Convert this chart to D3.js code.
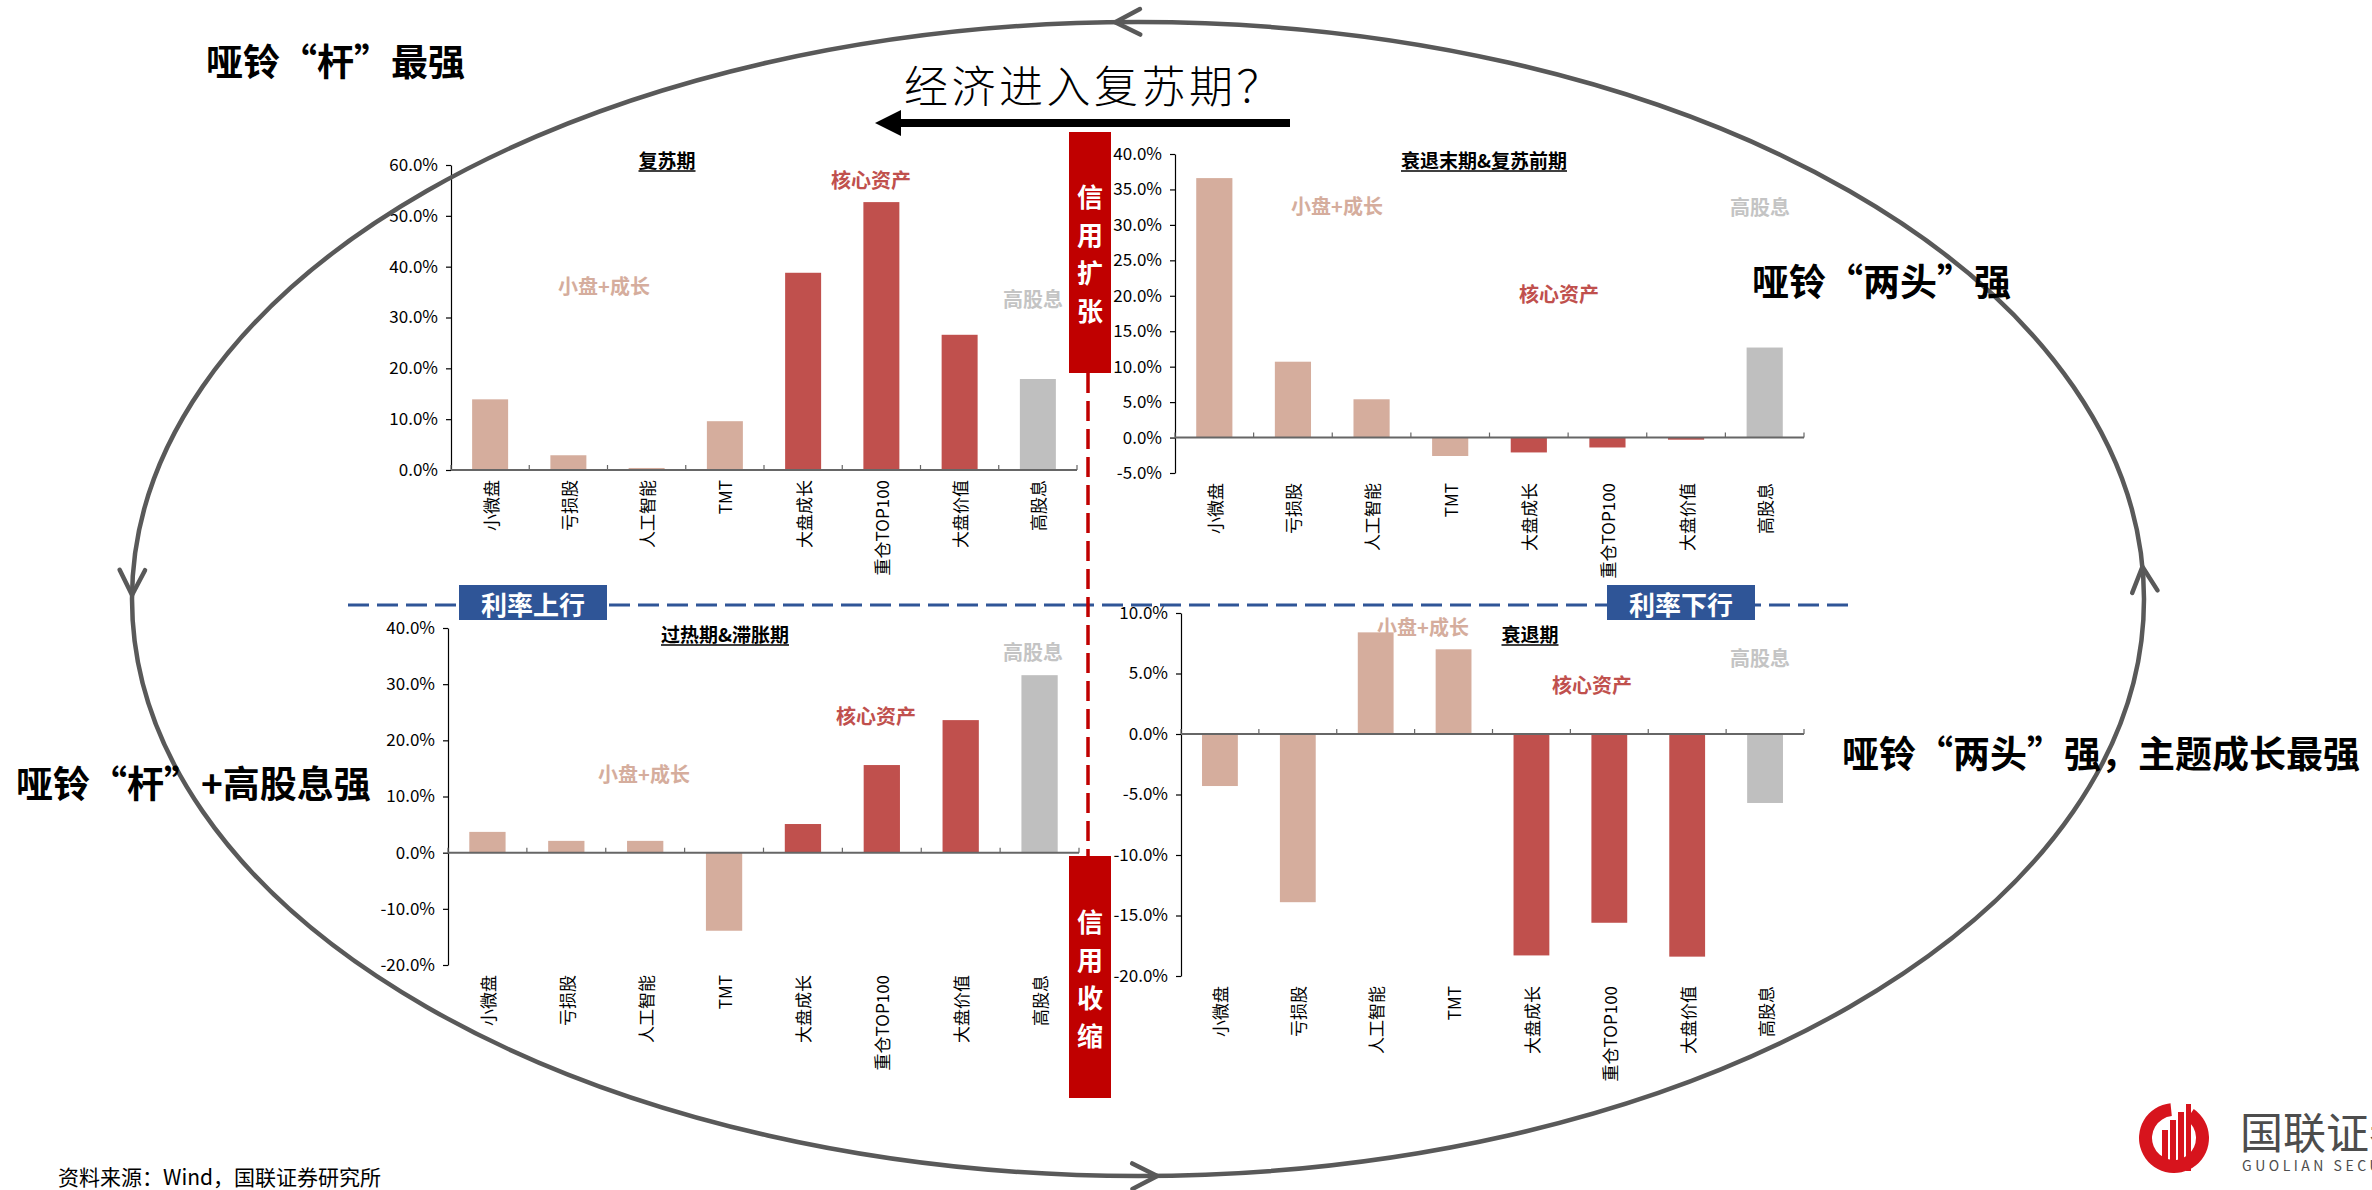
<!DOCTYPE html>
<html><head><meta charset="utf-8">
<script src="https://cdn.jsdelivr.net/npm/d3@7"></script>
<style>
body{margin:0;background:#fff;overflow:hidden;}
svg{display:block;}
text{font-family:"Noto Sans CJK SC","Noto Sans",sans-serif;}
</style></head><body>
<svg id="c" width="2372" height="1190"></svg>
<script>
// ---------- DATA ----------
const categories = ["小微盘","亏损股","人工智能","TMT","大盘成长","重仓TOP100","大盘价值","高股息"];
const categoryGroups = ["small","small","small","small","core","core","core","div"];
const groupNames = {small:"小盘+成长", core:"核心资产", div:"高股息"};
const panelTitles = ["复苏期","衰退末期&复苏前期","过热期&滞胀期","衰退期"];
const recoveryValues      = [13.9, 2.9, 0.4, 9.6, 38.8, 52.7, 26.6, 17.9];
const lateRecessionValues = [36.6, 10.7, 5.4, -2.6, -2.1, -1.4, -0.3, 12.7];
const overheatValues      = [3.7, 2.1, 2.1, -13.9, 5.1, 15.6, 23.6, 31.6];
const recessionValues     = [-4.3, -13.9, 8.4, 7.0, -18.3, -15.6, -18.4, -5.7];
const recoveryTicks      = [0, 10, 20, 30, 40, 50, 60];
const lateRecessionTicks = [-5, 0, 5, 10, 15, 20, 25, 30, 35, 40];
const overheatTicks      = [-20, -10, 0, 10, 20, 30, 40];
const recessionTicks     = [-20, -15, -10, -5, 0, 5, 10];
const mainTitle = "经济进入复苏期？";
const dumbbellLabels = ["哑铃“杆”最强","哑铃“两头”强","哑铃“杆”+高股息强","哑铃“两头”强，主题成长最强"];
const creditLabels = ["信用扩张","信用收缩"];
const rateLabels = ["利率上行","利率下行"];
const sourceText = "资料来源：Wind，国联证券研究所";

// ---------- STYLE ----------
const colors = {small:"#d5ad9d", core:"#c0504d", div:"#bfbfbf"};
const labelColors = {small:"#d5ad9d", core:"#c0504d", div:"#c4c4c4"};
const RED = "#c00000", BLUE = "#2f5597", ARC = "#595959";
const numFont = '"Liberation Sans Narrow","Arial Narrow","Liberation Sans",Arial,sans-serif';

const svg = d3.select("#c");

// ---------- PANELS ----------
const panels = [
  {title:panelTitles[0], values:recoveryValues, ticks:recoveryTicks, x0:451, x1:1077, yTop:165, yBot:470,
   titlePos:[667,159], lab:{small:[604,285], core:[871,179], div:[1033,298]}},
  {title:panelTitles[1], values:lateRecessionValues, ticks:lateRecessionTicks, x0:1175, x1:1804, yTop:154, yBot:473,
   titlePos:[1484,159], lab:{small:[1337,205], core:[1559,293], div:[1760,206]}},
  {title:panelTitles[2], values:overheatValues, ticks:overheatTicks, x0:448, x1:1079, yTop:628, yBot:965,
   titlePos:[725,633], lab:{small:[644,773], core:[876,715], div:[1033,651]}},
  {title:panelTitles[3], values:recessionValues, ticks:recessionTicks, x0:1181, x1:1804, yTop:613, yBot:976,
   titlePos:[1530,633], lab:{small:[1423,626], core:[1592,684], div:[1760,657]}}
];

panels.forEach(p => {
  const g = svg.append("g");
  const x = d3.scaleBand().domain(categories).range([p.x0, p.x1]).paddingInner(0.54).paddingOuter(0.27);
  const y = d3.scaleLinear().domain([d3.min(p.ticks), d3.max(p.ticks)]).range([p.yBot, p.yTop]);

  // group labels
  Object.keys(p.lab).forEach(k => {
    g.append("text").attr("x", p.lab[k][0]).attr("y", p.lab[k][1])
      .attr("text-anchor","middle").attr("dominant-baseline","central")
      .attr("font-size",20).attr("font-weight",700).attr("fill",labelColors[k]).text(groupNames[k]);
  });

  // bars
  g.selectAll("rect.bar").data(p.values).join("rect").attr("class","bar")
    .attr("x",(d,i)=>x(categories[i])).attr("width",x.bandwidth())
    .attr("y",d=>y(Math.max(0,d))).attr("height",d=>Math.abs(y(d)-y(0)))
    .attr("fill",(d,i)=>colors[categoryGroups[i]]);

  // y axis
  const ya = g.append("g").attr("transform",`translate(${p.x0},0)`)
    .call(d3.axisLeft(y).tickValues(p.ticks).tickFormat(d=>d.toFixed(1)+"%").tickSize(5).tickSizeOuter(0).tickPadding(8));
  ya.select(".domain").attr("stroke","#000").attr("stroke-width",1.2);
  ya.selectAll(".tick line").attr("stroke","#000").attr("stroke-width",1.2);
  ya.selectAll(".tick text").attr("font-family",numFont).attr("font-size",17).attr("fill","#000");

  // x axis at zero
  const y0 = y(0);
  g.append("line").attr("x1",p.x0).attr("x2",p.x1).attr("y1",y0).attr("y2",y0)
    .attr("stroke","#666").attr("stroke-width",2);
  const step = x.step();
  g.selectAll("line.xt").data(d3.range(categories.length+1)).join("line").attr("class","xt")
    .attr("x1",i=>p.x0+i*step).attr("x2",i=>p.x0+i*step).attr("y1",y0).attr("y2",y0-5)
    .attr("stroke","#666").attr("stroke-width",1.2);

  // category labels
  g.selectAll("text.cat").data(categories).join("text").attr("class","cat")
    .attr("transform",d=>`translate(${x(d)+x.bandwidth()/2},${p.yBot+10}) rotate(-90)`)
    .attr("text-anchor","end").attr("dominant-baseline","central")
    .attr("font-size",17).attr("fill","#000").text(d=>d);

  // title
  const t = g.append("text").attr("x",p.titlePos[0]).attr("y",p.titlePos[1])
    .attr("text-anchor","middle").attr("dominant-baseline","central")
    .attr("font-size",19).attr("font-weight",700).attr("fill","#000").text(p.title);
  const bb = t.node().getBBox();
  g.append("line").attr("x1",bb.x).attr("x2",bb.x+bb.width).attr("y1",p.titlePos[1]+12).attr("y2",p.titlePos[1]+12)
    .attr("stroke","#000").attr("stroke-width",1.5);
});

// ---------- DIVIDERS ----------
svg.append("line").attr("x1",348).attr("x2",1849).attr("y1",605).attr("y2",605)
  .attr("stroke",BLUE).attr("stroke-width",3).attr("stroke-dasharray","21,8");
svg.append("line").attr("x1",1088).attr("x2",1088).attr("y1",373).attr("y2",856)
  .attr("stroke",RED).attr("stroke-width",3.5).attr("stroke-dasharray","20,8");

// rate boxes
[[459,rateLabels[0]],[1607,rateLabels[1]]].forEach(([bx,lab])=>{
  svg.append("rect").attr("x",bx).attr("y",585).attr("width",148).attr("height",35).attr("fill",BLUE);
  svg.append("text").attr("x",bx+74).attr("y",603).attr("text-anchor","middle").attr("dominant-baseline","central")
    .attr("font-size",26).attr("font-weight",700).attr("fill","#fff").text(lab);
});
// credit boxes
[[132,373,creditLabels[0]],[856,1098,creditLabels[1]]].forEach(([top,bot,lab])=>{
  svg.append("rect").attr("x",1069).attr("y",top).attr("width",42).attr("height",bot-top).attr("fill",RED);
  const chars = Array.from(lab), mid=(top+bot)/2, sp=38;
  chars.forEach((c,i)=>{
    svg.append("text").attr("x",1090).attr("y",mid+(i-(chars.length-1)/2)*sp)
      .attr("text-anchor","middle").attr("dominant-baseline","central")
      .attr("font-size",26).attr("font-weight",700).attr("fill","#fff").text(c);
  });
});

// ---------- CYCLE ELLIPSE ----------
const E = {cx:1138, cy:599, rx:1006, ry:577};
svg.append("ellipse").attr("cx",E.cx).attr("cy",E.cy).attr("rx",E.rx).attr("ry",E.ry)
  .attr("fill","none").attr("stroke",ARC).attr("stroke-width",4.5);
[268.7, 180.4, 88.9, 356.8].forEach(deg=>{
  const t = deg*Math.PI/180;
  const px = E.cx+E.rx*Math.cos(t), py = E.cy+E.ry*Math.sin(t);
  let dx = E.rx*Math.sin(t), dy = -E.ry*Math.cos(t);
  const n = Math.hypot(dx,dy); dx/=n; dy/=n;
  const L=28, a=27*Math.PI/180;
  const arm = s => {
    const c=Math.cos(s*a), si=Math.sin(s*a);
    const rx_= dx*c - dy*si, ry_= dx*si + dy*c;
    return [px - L*rx_, py - L*ry_];
  };
  const A=arm(1), B=arm(-1);
  svg.append("path").attr("d",`M${A[0]},${A[1]}L${px},${py}L${B[0]},${B[1]}`)
    .attr("fill","none").attr("stroke",ARC).attr("stroke-width",4.5).attr("stroke-linecap","round").attr("stroke-linejoin","round");
});

// ---------- TITLE & ARROW ----------
svg.append("text").attr("x",1094).attr("y",84).attr("text-anchor","middle").attr("dominant-baseline","central")
  .attr("font-size",44).attr("font-weight",300).attr("letter-spacing",3.5).attr("fill","#000").text(mainTitle);
svg.append("line").attr("x1",1290).attr("x2",895).attr("y1",123).attr("y2",123).attr("stroke","#000").attr("stroke-width",8);
svg.append("path").attr("d","M875,123L901,110L901,136Z").attr("fill","#000");

// ---------- DUMBBELL LABELS ----------
[[206,60],[1752,280],[16,782],[1842,752]].forEach(([lx,ly],i)=>{
  svg.append("text").attr("x",lx).attr("y",ly).attr("dominant-baseline","central")
    .attr("font-size",37).attr("font-weight",700).attr("fill","#000").text(dumbbellLabels[i]);
});

// ---------- SOURCE ----------
svg.append("text").attr("x",58).attr("y",1176).attr("dominant-baseline","central")
  .attr("font-size",21).attr("fill","#000").text(sourceText);

// ---------- LOGO ----------
const lg = svg.append("g").attr("transform","translate(2174,1138)");
lg.append("path").attr("d", d3.arc()({innerRadius:22, outerRadius:35, startAngle:0.6, endAngle:2*Math.PI-0.1})).attr("fill","#d7141d");
[[-12,-8,6],[-4,-18,6],[4,-26,6],[12,-34,5]].forEach(([bx,by,bw])=>{
  lg.append("rect").attr("x",bx).attr("y",by).attr("width",bw).attr("height",35-by-2).attr("fill","#d7141d");
});
svg.append("text").attr("x",2240).attr("y",1130).attr("dominant-baseline","central")
  .attr("font-size",43).attr("fill","#4d4d4d").text("国联证券");
svg.append("text").attr("x",2242).attr("y",1165).attr("dominant-baseline","central")
  .attr("font-family","Liberation Sans, Arial, sans-serif").attr("letter-spacing",3.5)
  .attr("font-size",14).attr("fill","#4d4d4d").text("GUOLIAN SECURITIES");
</script>
</body></html>
